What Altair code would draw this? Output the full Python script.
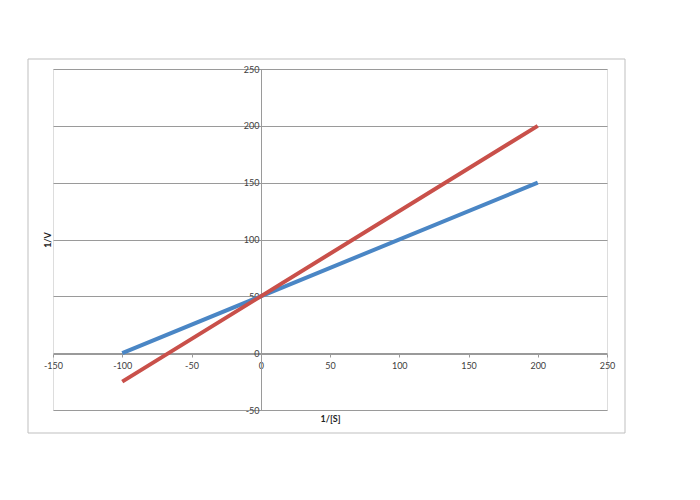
import altair as alt
import pandas as pd

# Data (Lineweaver-Burk style lines)
series_names = ["A", "B"]
x_vals = [-100, 0, 200]
blue_y = [0, 50, 150]
red_y = [-25, 50, 200]

x_ticks = [-150, -100, -50, 0, 50, 100, 150, 200, 250]
y_ticks = [-50, 0, 50, 100, 150, 200, 250]

rows = []
for xv, yv in zip(x_vals, blue_y):
    rows.append({"s": "A", "x": xv, "y": yv})
for xv, yv in zip(x_vals, red_y):
    rows.append({"s": "B", "x": xv, "y": yv})
df = pd.DataFrame(rows)

FONT = "Lato"
LABEL = "#404040"
GRID = "#9a9a9a"

xscale = alt.Scale(domain=[-150, 250], nice=False, zero=False)
yscale = alt.Scale(domain=[-50, 250], nice=False, zero=False)

border = alt.Chart(pd.DataFrame({"a": [0]})).mark_rect(
    fill=None, stroke="#bfbfbf", strokeWidth=1, clip=False
).encode(
    x=alt.value(-25), x2=alt.value(572), y=alt.value(-10), y2=alt.value(364)
)

lines = alt.Chart(df).mark_line(strokeWidth=4, clip=False).encode(
    x=alt.X("x:Q", scale=xscale, axis=alt.Axis(
        values=x_ticks, offset=-56, grid=False, domainColor=GRID,
        tickColor=GRID, tickSize=3, labelFont=FONT, labelFontSize=9,
        labelColor=LABEL, title="1/[S]", titleFont=FONT, titleFontSize=9,
        titleFontWeight="bold", titleColor="#222222", titleY=64,
        titleBaseline="middle", labelPadding=4, labelFlush=False,
        labelOverlap=False, labelExpr="toString(datum.value)")),
    y=alt.Y("y:Q", scale=yscale, axis=alt.Axis(
        values=y_ticks, offset=-208, grid=True, gridColor=GRID,
        domainColor=GRID, ticks=False, labelFont=FONT, labelFontSize=9,
        labelColor=LABEL, labelPadding=2, title="1/V", titleFont=FONT,
        titleFontSize=9, titleFontWeight="bold", titleColor="#222222",
        titleX=-214, titleBaseline="middle", labelFlush=False,
        labelOverlap=False, labelExpr="toString(datum.value)")),
    color=alt.Color("s:N", scale=alt.Scale(domain=series_names,
                                            range=["#4A86C5", "#C9504A"]),
                    legend=None),
    detail="s:N",
)

chart = alt.layer(border, lines).properties(
    width=554, height=341,
    autosize=alt.AutoSizeParams(type="none"),
    padding={"left": 45, "top": 61, "right": 80, "bottom": 80},
).configure_view(stroke=None).configure(background="white")

chart.save("out.html", embed_options={"renderer": "svg", "actions": False})
